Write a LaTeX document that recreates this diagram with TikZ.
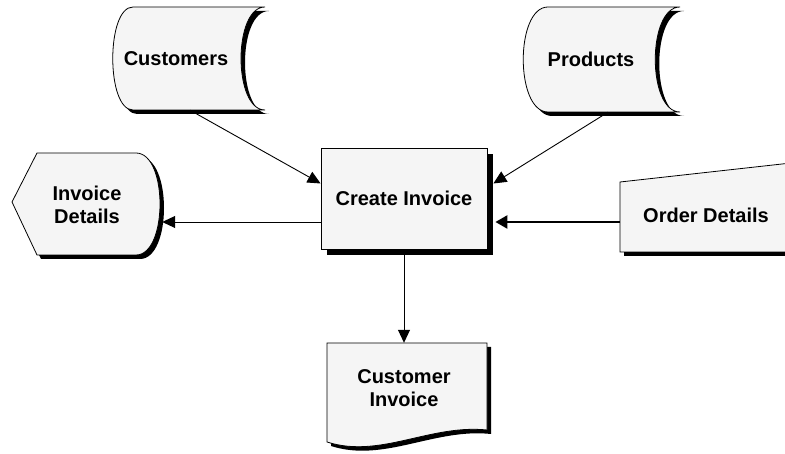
\documentclass[tikz,border=0pt]{standalone}
\usepackage{fontspec}
\setmainfont{Liberation Sans}
\usetikzlibrary{arrows.meta}
\begin{document}
\begin{tikzpicture}[
      x=1pt,y=1pt,
      txt/.style={font=\fontsize{20}{23}\selectfont\bfseries,align=center,inner sep=0pt},
      body/.style={fill=black!4,draw=black,line width=0.8pt,
        preaction={fill=black,transform canvas={shift={(4pt,-4pt)}}}},
      box/.style={txt,draw=black,fill=black!4,line width=0.8pt,
        minimum width=166pt,minimum height=101pt},
      flow/.style={line width=0.9pt,-{Triangle[length=13pt,width=12pt]}},
      heavy/.style={line width=2.4pt,-{Triangle[length=12pt,width=13pt]}},
      ]
      \useasboundingbox (0,0) rectangle (785,454);
      \clip (0,0) rectangle (785,454);
      \path[body] (133,447) -- (265,447) .. controls (233,447) and (233,344) .. (265,344)
        -- (133,344) .. controls (106,344) and (106,447) .. (133,447) -- cycle;
      \path[body] (548,447) -- (680,447) .. controls (647,447) and (647,342) .. (680,342)
        -- (548,342) .. controls (515,342) and (515,447) .. (548,447) -- cycle;
      \path[body] (12,252) -- (37,301) -- (136,301) .. controls (168,301) and (168,199) .. (136,199)
        -- (37,199) -- cycle;
      \path[body] (620,272) -- (800,292) -- (800,202) -- (620,202) -- cycle;
      \path[body] (327,111) -- (487,111) -- (487,24) .. controls (430,30) and (380,-5) .. (327,12) -- cycle;
      \fill[black] (327,199) rectangle (493,300);
      \node[box] (inv) at (404,255.5) {Create Invoice};
      \node[txt,minimum height=103pt] (cust) at (176,395.5) {Customers};
      \node[txt,minimum height=105pt] (prod) at (591,394.5) {Products};
      \node[txt,minimum width=146pt] (invdet) at (87,249) {Invoice\\Details};
      \node[txt] (ord) at (706,239) {Order Details};
      \node[txt,minimum height=90pt] (cinv) at (404,66) {Customer\\Invoice};
      \draw[flow] ([xshift=14pt]cust.south) -- ([yshift=15pt]inv.west);
      \draw[flow] ([xshift=17pt]prod.south) -- ([xshift=6pt,yshift=15pt]inv.east);
      \draw[flow] ([yshift=-23.5pt]inv.west) -- ([xshift=2pt,yshift=-17pt]invdet.east);
      \draw[heavy] ([xshift=-86pt,yshift=-7pt]ord.center) -- ([xshift=8pt,yshift=-23.5pt]inv.east);
      \draw[flow] (inv.south) -- (cinv.north);
    \end{tikzpicture}
\end{document}
